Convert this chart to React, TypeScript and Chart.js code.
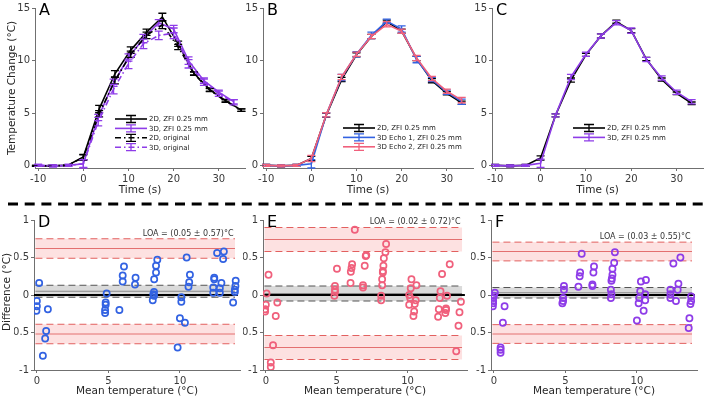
import React, { useEffect, useRef } from "react";
import { Chart, registerables } from "chart.js";

Chart.register(...registerables);

const FONT = '"DejaVu Sans", "Noto Sans", sans-serif';
const AXIS_COLOR = "#707070";
const TICK_COLOR = "#3a3a3a";
const TEXT_COLOR = "#262626";

const BLACK = "#000000";
const PURPLE = "#8e3ce8";
const BLUE = "#3262e2";
const PINK = "#f0607c";
const SOLID: number[] = [];
const DASH_DOT = [6, 3, 1.5, 3];

// ---- Temperature time courses (s, °C) ----
const timeA2D = [-10.5, -7, -3.5, 0, 3.5, 7, 10.5, 14, 17.5, 21, 24.5, 28, 31.5, 35];
const time3D = [-10, -6.7, -3.3, 0, 3.3, 6.7, 10, 13.3, 16.7, 20, 23.3, 26.7, 30, 33.3];

const timeTicks = [-10, 0, 10, 20, 30];
const tempTicks = [0, 5, 10, 15];
const meanTicks = [0, 5, 10];
const diffTicks = [-1, -0.5, 0, 0.5, 1];

// Panel A
const a2dZfi = [0.0, 0.0, 0.05, 0.85, 5.4, 8.75, 11.0, 12.7, 14.15, 11.6, 8.8, 7.25, 6.2, 5.3];
const a2dZfiErr = [0.05, 0.05, 0.05, 0.25, 0.35, 0.3, 0.3, 0.3, 0.35, 0.25, 0.15, 0.15, 0.12, 0.12];
const a2dOrig = [0.0, 0.0, 0.05, 0.8, 4.95, 8.1, 10.6, 12.4, 13.4, 11.3, 8.75, 7.2, 6.15, 5.3];
const a2dOrigErr = [0.05, 0.05, 0.05, 0.25, 0.3, 0.3, 0.3, 0.3, 0.35, 0.25, 0.15, 0.15, 0.12, 0.12];
const a3dZfi = [0.05, 0.0, 0.05, 0.2, 4.6, 7.9, 10.3, 12.1, 13.6, 13.0, 10.0, 8.1, 7.0, 6.1];
const a3dZfiErr = [0.1, 0.1, 0.1, 0.35, 0.3, 0.35, 0.35, 0.4, 0.3, 0.35, 0.35, 0.25, 0.2, 0.2];
const a3dOrig = [0.05, 0.0, 0.05, 0.2, 4.2, 7.3, 9.7, 11.6, 12.4, 12.6, 9.7, 7.95, 6.85, 6.05];
const a3dOrigErr = [0.1, 0.1, 0.1, 0.4, 0.4, 0.45, 0.45, 0.45, 0.4, 0.5, 0.4, 0.3, 0.25, 0.25];

// Panel B
const b2dZfi = [0.05, 0.0, 0.05, 0.7, 4.8, 8.2, 10.55, 12.3, 13.7, 12.8, 10.2, 8.1, 6.9, 6.0];
const b2dZfiErr = [0.1, 0.1, 0.1, 0.2, 0.2, 0.2, 0.2, 0.2, 0.15, 0.2, 0.2, 0.2, 0.15, 0.15];
const bEcho1 = [0.05, 0.0, 0.05, 0.2, 4.85, 8.4, 10.6, 12.4, 13.75, 13.0, 10.1, 8.2, 7.0, 6.1];
const bEcho1Err = [0.1, 0.1, 0.1, 0.4, 0.2, 0.3, 0.25, 0.3, 0.2, 0.3, 0.3, 0.2, 0.2, 0.25];
const bEcho2 = [0.05, 0.0, 0.05, 0.7, 4.85, 8.45, 10.6, 12.3, 13.45, 12.8, 10.25, 8.3, 7.1, 6.25];
const bEcho2Err = [0.1, 0.1, 0.1, 0.3, 0.2, 0.25, 0.2, 0.2, 0.25, 0.2, 0.25, 0.2, 0.2, 0.25];

// Panel C
const c2dZfi = [0.05, 0.0, 0.05, 0.75, 4.8, 8.15, 10.55, 12.35, 13.7, 12.85, 10.15, 8.2, 6.9, 5.95];
const c2dZfiErr = [0.1, 0.1, 0.1, 0.2, 0.15, 0.2, 0.15, 0.2, 0.15, 0.2, 0.15, 0.15, 0.12, 0.12];
const c3dZfi = [0.05, 0.0, 0.05, 0.25, 4.8, 8.45, 10.6, 12.35, 13.6, 12.85, 10.1, 8.35, 7.0, 6.1];
const c3dZfiErr = [0.1, 0.1, 0.1, 0.4, 0.15, 0.25, 0.2, 0.2, 0.2, 0.25, 0.2, 0.2, 0.2, 0.2];

// ---- Bland–Altman differences (mean °C, difference °C) ----
const dMean = [0.16, 0.0, 0.0, -0.03, 0.77, 0.65, 0.58, 0.42, 4.88, 4.81, 4.81, 4.77, 4.77, 5.77, 6.09, 6.0, 6.0, 6.9, 6.86, 8.42, 8.33, 8.33, 8.2, 8.19, 8.14, 8.1, 8.19, 9.84, 10.0, 10.35, 10.1, 10.1, 10.47, 10.7, 10.65, 10.6, 12.4, 12.4, 12.33, 12.33, 12.6, 13.07, 13.02, 12.9, 12.79, 12.79, 13.9, 13.88, 13.84, 13.84, 13.72];
const dDiff = [0.16, -0.08, -0.15, -0.21, -0.19, -0.48, -0.58, -0.81, 0.02, -0.1, -0.13, -0.2, -0.24, -0.2, 0.38, 0.26, 0.18, 0.23, 0.14, 0.47, 0.39, 0.3, 0.21, 0.04, 0.01, -0.07, -0.01, -0.7, -0.31, -0.37, -0.03, -0.09, 0.5, 0.27, 0.17, 0.11, 0.23, 0.21, 0.1, 0.03, 0.56, 0.58, 0.48, 0.16, 0.09, 0.03, 0.19, 0.12, 0.07, 0.04, -0.1];

const eMean = [0.19, 0.05, 0.0, -0.05, -0.05, 0.81, 0.7, 0.51, 0.35, 0.35, 5.02, 4.88, 4.88, 4.88, 4.84, 6.28, 6.09, 6.05, 6.0, 5.98, 7.05, 7.09, 6.98, 6.86, 6.86, 8.49, 8.44, 8.33, 8.3, 8.26, 8.26, 8.21, 8.21, 8.14, 8.14, 10.28, 10.23, 10.63, 10.12, 10.19, 10.12, 10.58, 10.51, 10.47, 10.42, 12.98, 12.44, 12.33, 12.28, 12.79, 12.21, 12.16, 12.72, 12.67, 12.72, 13.77, 13.67, 13.6, 13.44];
const eDiff = [0.27, 0.02, -0.13, -0.19, -0.22, -0.1, -0.28, -0.67, -0.9, -0.96, 0.35, 0.12, 0.07, 0.04, -0.01, 0.87, 0.41, 0.36, 0.31, 0.16, 0.52, 0.53, 0.39, 0.13, 0.1, 0.68, 0.57, 0.49, 0.39, 0.32, 0.3, 0.21, 0.13, -0.01, -0.07, 0.21, 0.09, 0.13, 0.0, -0.04, -0.13, -0.07, -0.12, -0.22, -0.28, 0.41, 0.28, 0.05, -0.04, -0.01, -0.19, -0.29, -0.18, -0.24, -0.2, -0.09, -0.23, -0.41, -0.75];

const fMean = [0.07, 0.0, -0.05, -0.05, -0.05, -0.07, 0.75, 0.63, 0.47, 0.47, 0.47, 4.9, 4.9, 4.84, 4.84, 4.79, 6.14, 6.03, 6.0, 5.91, 7.0, 6.96, 6.89, 6.89, 8.46, 8.41, 8.29, 8.29, 8.25, 8.22, 8.18, 8.22, 8.18, 10.0, 10.28, 10.63, 10.23, 10.58, 10.16, 10.12, 10.58, 10.47, 13.04, 12.55, 12.9, 12.85, 12.34, 12.34, 12.34, 12.73, 13.79, 13.79, 13.74, 13.67, 13.62];
const fDiff = [0.03, -0.01, -0.04, -0.08, -0.11, -0.15, -0.15, -0.37, -0.7, -0.73, -0.77, 0.12, 0.07, -0.04, -0.08, -0.11, 0.55, 0.3, 0.25, 0.11, 0.38, 0.3, 0.14, 0.12, 0.57, 0.43, 0.35, 0.27, 0.22, 0.19, 0.07, 0.01, -0.04, -0.34, 0.18, 0.2, 0.05, 0.01, -0.04, -0.11, -0.07, -0.21, 0.5, 0.42, 0.15, 0.07, 0.07, 0.01, -0.04, -0.08, -0.02, -0.08, -0.12, -0.31, -0.44];

// Bias and limits of agreement for D, E, F
const biasMean = [0.05, 0.02, 0.03];
const loaHalfWidth = [0.57, 0.72, 0.55];
const biasCI = [0.08, 0.1, 0.07];
const loaCI = [0.13, 0.16, 0.125];
const bandSpan = [-0.1, 13.85];
const zeroSpan = [-0.2, 14.05];

// ---- layout ----
const Y_BOX = 20;
const X_BOX = 14;

type Box = { x: number; y: number; w: number; h: number };
type Area = { left: number; top: number; right: number; bottom: number };
type LineSeries = { label: string; time: number[]; values: number[]; errors: number[]; color: string; dash: number[] };

type PanelSpec = {
  letter: string;
  cell: Box;
  area: Area;
  xRange: [number, number];
  yRange: [number, number];
  xTicks: number[];
  yTicks: number[];
  xTitle: string;
  xTitleY: number;
  yTitle?: string;
  yTitleX?: number;
  yTitleY?: number;
  series?: LineSeries[];
  legendAt?: { x: number; y: number };
  scatter?: { mean: number[]; diff: number[]; color: string; idx: number };
};

const TOP_X: [number, number] = [-10.7, 35.8];
const TOP_Y: [number, number] = [-0.2, 15];
const BOT_X: [number, number] = [-0.2, 14.2];
const BOT_Y: [number, number] = [-1, 1];

const panels: PanelSpec[] = [
  {
    letter: "A",
    cell: { x: 0, y: 0, w: 250, h: 200 },
    area: { left: 35, top: 7, right: 245, bottom: 168 },
    xRange: TOP_X, yRange: TOP_Y, xTicks: timeTicks, yTicks: tempTicks,
    xTitle: "Time (s)", xTitleY: 190,
    yTitle: "Temperature Change (°C)", yTitleX: 12, yTitleY: 88,
    series: [
      { label: "2D, ZFI 0.25 mm", time: timeA2D, values: a2dZfi, errors: a2dZfiErr, color: BLACK, dash: SOLID },
      { label: "3D, ZFI 0.25 mm", time: time3D, values: a3dZfi, errors: a3dZfiErr, color: PURPLE, dash: SOLID },
      { label: "2D, original", time: timeA2D, values: a2dOrig, errors: a2dOrigErr, color: BLACK, dash: DASH_DOT },
      { label: "3D, original", time: time3D, values: a3dOrig, errors: a3dOrigErr, color: PURPLE, dash: DASH_DOT },
    ],
    legendAt: { x: 115, y: 119 },
  },
  {
    letter: "B",
    cell: { x: 240, y: 0, w: 240, h: 200 },
    area: { left: 263, top: 7, right: 473, bottom: 168 },
    xRange: TOP_X, yRange: TOP_Y, xTicks: timeTicks, yTicks: tempTicks,
    xTitle: "Time (s)", xTitleY: 190,
    series: [
      { label: "2D, ZFI 0.25 mm", time: time3D, values: b2dZfi, errors: b2dZfiErr, color: BLACK, dash: SOLID },
      { label: "3D Echo 1, ZFI 0.25 mm", time: time3D, values: bEcho1, errors: bEcho1Err, color: BLUE, dash: SOLID },
      { label: "3D Echo 2, ZFI 0.25 mm", time: time3D, values: bEcho2, errors: bEcho2Err, color: PINK, dash: SOLID },
    ],
    legendAt: { x: 343, y: 128 },
  },
  {
    letter: "C",
    cell: { x: 470, y: 0, w: 239, h: 200 },
    area: { left: 492, top: 7, right: 703, bottom: 168 },
    xRange: TOP_X, yRange: TOP_Y, xTicks: timeTicks, yTicks: tempTicks,
    xTitle: "Time (s)", xTitleY: 190,
    series: [
      { label: "2D, ZFI 0.25 mm", time: time3D, values: c2dZfi, errors: c2dZfiErr, color: BLACK, dash: SOLID },
      { label: "3D, ZFI 0.25 mm", time: time3D, values: c3dZfi, errors: c3dZfiErr, color: PURPLE, dash: SOLID },
    ],
    legendAt: { x: 573, y: 128 },
  },
  {
    letter: "D",
    cell: { x: 0, y: 206, w: 250, h: 192 },
    area: { left: 34, top: 220, right: 240, bottom: 370 },
    xRange: BOT_X, yRange: BOT_Y, xTicks: meanTicks, yTicks: diffTicks,
    xTitle: "Mean temperature (°C)", xTitleY: 391,
    yTitle: "Difference (°C)", yTitleX: 7, yTitleY: 292,
    scatter: { mean: dMean, diff: dDiff, color: BLUE, idx: 0 },
  },
  {
    letter: "E",
    cell: { x: 240, y: 206, w: 240, h: 192 },
    area: { left: 263, top: 220, right: 467, bottom: 370 },
    xRange: BOT_X, yRange: BOT_Y, xTicks: meanTicks, yTicks: diffTicks,
    xTitle: "Mean temperature (°C)", xTitleY: 391,
    scatter: { mean: eMean, diff: eDiff, color: PINK, idx: 1 },
  },
  {
    letter: "F",
    cell: { x: 470, y: 206, w: 239, h: 192 },
    area: { left: 491, top: 220, right: 697, bottom: 370 },
    xRange: BOT_X, yRange: BOT_Y, xTicks: meanTicks, yTicks: diffTicks,
    xTitle: "Mean temperature (°C)", xTitleY: 391,
    scatter: { mean: fMean, diff: fDiff, color: PURPLE, idx: 2 },
  },
];

function fmtLOA(i: number): string {
  return `LOA = (${biasMean[i].toFixed(2)} ± ${loaHalfWidth[i].toFixed(2)})°C`;
}

function linearAxis(range: [number, number], ticks: number[], isX: boolean) {
  return {
    type: "linear" as const,
    min: range[0],
    max: range[1],
    afterBuildTicks: (s: any) => {
      s.ticks = ticks.map((v) => ({ value: v }));
    },
    afterFit: (s: any) => {
      if (isX) s.height = X_BOX;
      else s.width = Y_BOX;
    },
    grid: { drawOnChartArea: false, drawTicks: true, tickLength: 3, color: AXIS_COLOR, lineWidth: 1 },
    border: { display: true, color: AXIS_COLOR, width: 1 },
    ticks: {
      font: { family: FONT, size: 10 },
      color: TICK_COLOR,
      padding: 2,
      maxRotation: 0,
      minRotation: 0,
      autoSkip: false,
      callback: (v: any) => String(v),
    },
  };
}

function drawErrorBar(ctx: CanvasRenderingContext2D, x: number, yTop: number, yBot: number, cap: number) {
  ctx.beginPath();
  ctx.moveTo(x, yTop);
  ctx.lineTo(x, yBot);
  ctx.moveTo(x - cap, yTop);
  ctx.lineTo(x + cap, yTop);
  ctx.moveTo(x - cap, yBot);
  ctx.lineTo(x + cap, yBot);
  ctx.stroke();
}

function makePlugin(p: PanelSpec) {
  const ox = p.cell.x;
  const oy = p.cell.y;
  return {
    id: "panelDecor" + p.letter,
    beforeDatasetsDraw(chart: any) {
      if (!p.scatter) return;
      const { ctx } = chart;
      const xs = chart.scales.x;
      const ys = chart.scales.y;
      const i = p.scatter.idx;
      const xa = xs.getPixelForValue(bandSpan[0]);
      const xb = xs.getPixelForValue(bandSpan[1]);
      const hline = (v: number, color: string, width: number, dash: number[], x0 = xa, x1 = xb) => {
        const y = ys.getPixelForValue(v);
        ctx.save();
        ctx.strokeStyle = color;
        ctx.lineWidth = width;
        ctx.setLineDash(dash);
        ctx.beginPath();
        ctx.moveTo(x0, y);
        ctx.lineTo(x1, y);
        ctx.stroke();
        ctx.restore();
      };
      const fillBand = (lo: number, hi: number, color: string) => {
        const y0 = ys.getPixelForValue(hi);
        const y1 = ys.getPixelForValue(lo);
        ctx.save();
        ctx.fillStyle = color;
        ctx.fillRect(xa, y0, xb - xa, y1 - y0);
        ctx.restore();
      };
      const upper = biasMean[i] + loaHalfWidth[i];
      const lower = biasMean[i] - loaHalfWidth[i];
      for (const c of [upper, lower]) {
        fillBand(c - loaCI[i], c + loaCI[i], "rgba(244, 120, 120, 0.22)");
        hline(c - loaCI[i], "#e2605f", 1, [7, 4]);
        hline(c + loaCI[i], "#e2605f", 1, [7, 4]);
        hline(c, "#e37070", 1, []);
      }
      fillBand(biasMean[i] - biasCI[i], biasMean[i] + biasCI[i], "rgba(150, 150, 150, 0.35)");
      hline(biasMean[i] - biasCI[i], "#555555", 1, [7, 4]);
      hline(biasMean[i] + biasCI[i], "#555555", 1, [7, 4]);
      hline(biasMean[i], "#8a8a8a", 1, []);
      hline(0, "#000000", 1.8, [], xs.getPixelForValue(zeroSpan[0]), xs.getPixelForValue(zeroSpan[1]));

      // limits-of-agreement label
      ctx.save();
      ctx.font = `8px ${FONT}`;
      ctx.fillStyle = "#333333";
      ctx.textAlign = "right";
      ctx.textBaseline = "middle";
      ctx.fillText(fmtLOA(i), xs.getPixelForValue(13.75), ys.getPixelForValue(upper + loaCI[i] + 0.07));
      ctx.restore();
    },
    afterDatasetDraw(chart: any, args: any) {
      const ds = chart.data.datasets[args.index];
      if (!ds.errors) return;
      const { ctx } = chart;
      const ys = chart.scales.y;
      ctx.save();
      ctx.strokeStyle = ds.borderColor;
      ctx.lineWidth = 1.3;
      ctx.setLineDash([]);
      args.meta.data.forEach((pt: any, j: number) => {
        const v = ds.data[j].y;
        const e = ds.errors[j];
        drawErrorBar(ctx, pt.x, ys.getPixelForValue(v + e), ys.getPixelForValue(v - e), 4);
      });
      ctx.restore();
    },
    afterDraw(chart: any) {
      const { ctx, chartArea } = chart;
      ctx.save();
      // panel letter
      ctx.font = `16px ${FONT}`;
      ctx.fillStyle = "#000000";
      ctx.textAlign = "left";
      ctx.textBaseline = "alphabetic";
      ctx.fillText(p.letter, chartArea.left + 4, chartArea.top + 6.5);

      // axis titles
      ctx.font = `10.5px ${FONT}`;
      ctx.fillStyle = TEXT_COLOR;
      ctx.textAlign = "center";
      ctx.textBaseline = "middle";
      ctx.fillText(p.xTitle, (chartArea.left + chartArea.right) / 2, p.xTitleY - oy);
      if (p.yTitle) {
        ctx.save();
        ctx.translate((p.yTitleX ?? 10) - ox, (p.yTitleY ?? 0) - oy);
        ctx.rotate(-Math.PI / 2);
        ctx.fillText(p.yTitle, 0, 0);
        ctx.restore();
      }

      // legend
      if (p.series && p.legendAt) {
        const lx = p.legendAt.x - ox;
        p.series.forEach((s, k) => {
          const y = p.legendAt!.y - oy + k * 9.4;
          ctx.strokeStyle = s.color;
          ctx.lineWidth = 1.6;
          ctx.setLineDash(s.dash);
          ctx.beginPath();
          ctx.moveTo(lx, y);
          ctx.lineTo(lx + 32, y);
          ctx.stroke();
          ctx.setLineDash([]);
          ctx.lineWidth = 1.3;
          drawErrorBar(ctx, lx + 16, y - 3.5, y + 3.5, 5);
          ctx.font = `7px ${FONT}`;
          ctx.fillStyle = "#1a1a1a";
          ctx.textAlign = "left";
          ctx.textBaseline = "middle";
          ctx.fillText(s.label, lx + 34, y + 0.5);
        });
      }
      ctx.restore();
    },
  };
}

function makeConfig(p: PanelSpec): any {
  const padding = {
    left: p.area.left - p.cell.x - Y_BOX,
    top: p.area.top - p.cell.y,
    right: p.cell.x + p.cell.w - p.area.right,
    bottom: p.cell.y + p.cell.h - p.area.bottom - X_BOX,
  };
  let datasets: any[] = [];
  if (p.series) {
    const n = p.series.length;
    datasets = p.series.map((s, i) => ({
      type: "line",
      label: s.label,
      data: s.time.map((t, j) => ({ x: t, y: s.values[j] })),
      borderColor: s.color,
      borderWidth: 1.6,
      borderDash: s.dash,
      pointRadius: 0,
      pointHoverRadius: 0,
      tension: 0,
      fill: false,
      errors: s.errors,
      order: n - i,
    }));
  } else if (p.scatter) {
    const sc = p.scatter;
    datasets = [
      {
        type: "scatter",
        label: "difference",
        data: sc.mean.map((m, j) => ({ x: m, y: sc.diff[j] })),
        borderColor: sc.color,
        pointBorderColor: sc.color,
        backgroundColor: "rgba(0,0,0,0)",
        pointBackgroundColor: "rgba(0,0,0,0)",
        pointRadius: 3.1,
        pointHoverRadius: 3.1,
        pointBorderWidth: 1.7,
        showLine: false,
      },
    ];
  }
  return {
    type: p.series ? "line" : "scatter",
    data: { datasets },
    options: {
      responsive: false,
      animation: false,
      devicePixelRatio: 1,
      layout: { padding },
      plugins: { legend: { display: false }, tooltip: { enabled: false }, title: { display: false } },
      events: [],
      scales: {
        x: linearAxis(p.xRange, p.xTicks, true),
        y: linearAxis(p.yRange, p.yTicks, false),
      },
    },
    plugins: [makePlugin(p)],
  };
}

function Panel({ spec }: { spec: PanelSpec }) {
  const ref = useRef<HTMLCanvasElement>(null);
  useEffect(() => {
    if (!ref.current) return;
    const chart = new Chart(ref.current, makeConfig(spec));
    return () => chart.destroy();
  }, [spec]);
  return (
    <canvas
      ref={ref}
      width={spec.cell.w}
      height={spec.cell.h}
      style={{ position: "absolute", left: spec.cell.x, top: spec.cell.y, width: spec.cell.w, height: spec.cell.h }}
    />
  );
}

function Divider() {
  const ref = useRef<HTMLCanvasElement>(null);
  useEffect(() => {
    const c = ref.current;
    if (!c) return;
    const ctx = c.getContext("2d");
    if (!ctx) return;
    ctx.clearRect(0, 0, c.width, c.height);
    ctx.strokeStyle = "#000000";
    ctx.lineWidth = 3;
    ctx.setLineDash([10, 6.7]);
    ctx.beginPath();
    ctx.moveTo(8, 6);
    ctx.lineTo(709, 6);
    ctx.stroke();
  }, []);
  return <canvas ref={ref} width={709} height={12} style={{ position: "absolute", left: 0, top: 198, width: 709, height: 12 }} />;
}

export default function App() {
  return (
    <div style={{ position: "absolute", left: 0, top: 0, width: 709, height: 398, background: "#ffffff", overflow: "hidden" }}>
      {panels.map((p) => (
        <Panel key={p.letter} spec={p} />
      ))}
      <Divider />
    </div>
  );
}
